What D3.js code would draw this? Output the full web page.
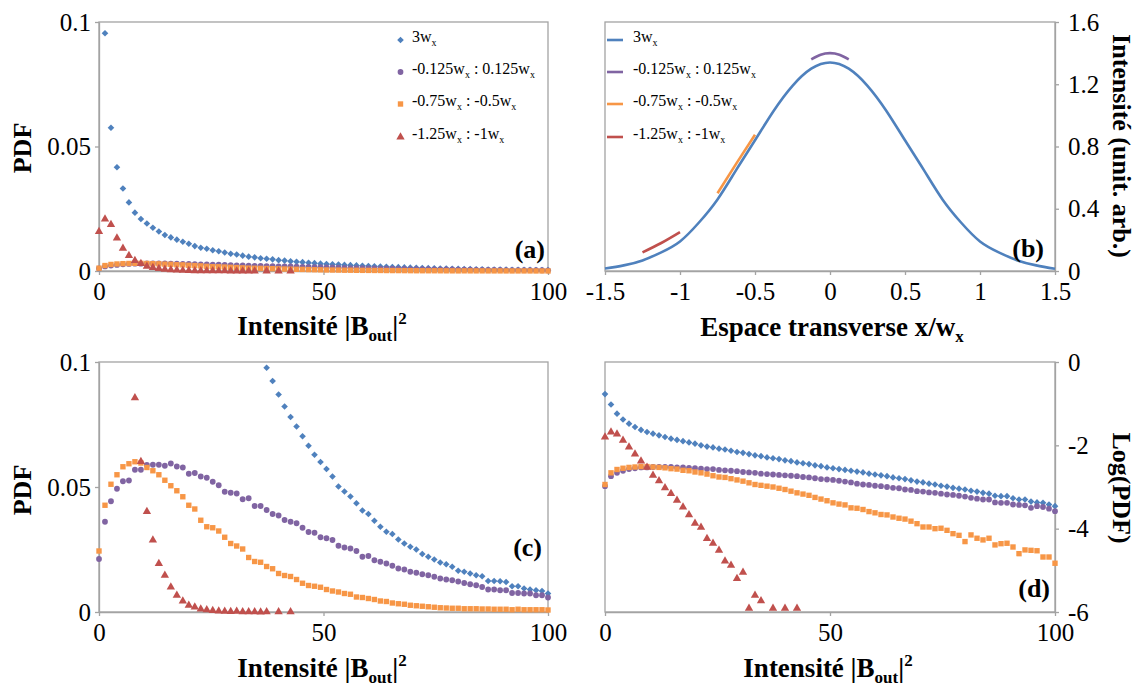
<!DOCTYPE html>
<html>
<head>
<meta charset="utf-8">
<script src="https://cdn.jsdelivr.net/npm/d3@7"></script>
<style>
  body { margin: 0; background: #fff; }
</style>
</head>
<body>
<div id="chart"></div>
<script>
// histogram bin width, in |B_out|^2 units
var binWidth = 4 / 3;

// panel (d) : log10(PDF) per bin (null = empty bin)
var logBlue = [-0.77,-1.02,-1.24,-1.38,-1.48,-1.56,-1.63,-1.68,-1.72,-1.76,-1.80,-1.84,-1.87,-1.90,-1.93,-1.96,-2.00,-2.03,-2.05,-2.08,
  -2.10,-2.13,-2.16,-2.18,-2.21,-2.24,-2.26,-2.29,-2.31,-2.33,-2.36,-2.38,-2.41,-2.43,-2.45,-2.48,-2.50,-2.53,
  -2.55,-2.57,-2.59,-2.61,-2.63,-2.65,-2.68,-2.70,-2.72,-2.74,-2.77,-2.79,-2.81,-2.84,-2.87,-2.89,-2.92,-2.94,-2.97,-2.99,
  -3.02,-3.04,-3.06,-3.09,-3.11,-3.14,-3.16,-3.21,-3.22,-3.22,-3.27,-3.30,-3.30,-3.35,-3.37,-3.38,-3.42,-3.46];
var logPurple = [-2.98,-2.74,-2.66,-2.61,-2.57,-2.55,-2.53,-2.53,-2.52,-2.52,-2.52,-2.52,-2.53,-2.53,-2.54,-2.55,-2.56,-2.57,-2.57,-2.59,
  -2.60,-2.61,-2.62,-2.64,-2.65,-2.66,-2.68,-2.69,-2.70,-2.71,-2.72,-2.73,-2.74,-2.76,-2.77,-2.79,-2.81,-2.82,
  -2.83,-2.85,-2.87,-2.89,-2.92,-2.94,-2.95,-2.97,-2.98,-3.00,-3.02,-3.03,-3.06,-3.07,-3.10,-3.11,-3.13,-3.14,-3.16,-3.18,
  -3.19,-3.21,-3.23,-3.26,-3.28,-3.30,-3.30,-3.37,-3.38,-3.38,-3.42,-3.43,-3.44,-3.50,-3.46,-3.48,-3.52,-3.58];
var logOrange = [-2.94,-2.66,-2.58,-2.55,-2.53,-2.52,-2.51,-2.51,-2.52,-2.53,-2.54,-2.56,-2.57,-2.60,-2.61,-2.64,-2.66,-2.69,-2.73,-2.76,
  -2.77,-2.80,-2.83,-2.86,-2.90,-2.94,-2.96,-2.98,-3.00,-3.03,-3.06,-3.10,-3.14,-3.17,-3.20,-3.25,-3.29,-3.33,
  -3.38,-3.41,-3.43,-3.50,-3.51,-3.54,-3.59,-3.62,-3.66,-3.67,-3.72,-3.75,-3.77,-3.82,-3.88,-3.96,-3.96,-4.00,-3.99,-4.04,
  -4.12,-4.16,-4.31,-4.15,-4.23,-4.27,-4.23,-4.39,-4.36,-4.35,-4.44,-4.60,-4.51,-4.52,-4.53,-4.68,-4.68,-4.83];
var logRed = [-1.80,-1.68,-1.73,-1.88,-2.04,-2.21,-2.38,-2.53,-2.72,-2.85,-3.02,-3.16,-3.32,-3.48,-3.67,-3.87,-3.97,-4.24,-4.35,-4.52,
  -4.78,-4.88,-5.20,-5.05,-5.91,-5.60,-5.73,null,-5.91,null,-5.91,null,-5.91];

// panel (c) : rescaled PDF per bin (null = above 0.1, off the plot)
var pdfBlue = [null,null,null,null,null,null,null,null,null,null,null,null,null,null,null,null,null,null,null,null,
  null,null,null,null,null,null,null,null,0.0977,0.0924,0.0870,0.0822,0.0780,0.0742,0.0703,0.0665,0.0629,0.0600,
  0.0572,0.0542,0.0502,0.0482,0.0462,0.0435,0.0406,0.0392,0.0365,0.0341,0.0321,0.0312,0.0290,0.0274,0.0261,0.0250,0.0232,0.0221,0.0210,0.0198,
  0.0191,0.0181,0.0165,0.0161,0.0154,0.0147,0.0143,0.0124,0.0124,0.0123,0.0120,0.0103,0.0103,0.0094,0.0090,0.0087,0.0084,0.0074];
var pdfPurple = [0.0212,0.0361,0.0443,0.0493,0.0523,0.0526,0.0569,0.0569,0.0588,0.0589,0.0589,0.0585,0.0594,0.0582,0.0578,0.0553,0.0556,0.0542,0.0537,0.0521,
  0.0507,0.0481,0.0477,0.0474,0.0451,0.0455,0.0424,0.0424,0.0408,0.0392,0.0386,0.0368,0.0361,0.0355,0.0337,0.0320,0.0317,0.0299,
  0.0295,0.0288,0.0265,0.0258,0.0254,0.0244,0.0221,0.0224,0.0207,0.0201,0.0194,0.0185,0.0174,0.0170,0.0161,0.0157,0.0151,0.0147,0.0141,0.0134,
  0.0130,0.0127,0.0122,0.0116,0.0111,0.0107,0.0100,0.0090,0.0090,0.0087,0.0087,0.0076,0.0076,0.0074,0.0074,0.0067,0.0067,0.0058];
var pdfOrange = [0.0244,0.0427,0.0511,0.0549,0.0581,0.0593,0.0601,0.0596,0.0578,0.0565,0.0549,0.0527,0.0505,0.0485,0.0461,0.0427,0.0412,0.0367,0.0341,0.0337,
  0.0324,0.0299,0.0274,0.0264,0.0252,0.0218,0.0202,0.0199,0.0182,0.0173,0.0154,0.0146,0.0142,0.0130,0.0115,0.0106,0.0103,0.0099,
  0.0090,0.0084,0.0080,0.0074,0.0071,0.0060,0.0058,0.0054,0.0050,0.0044,0.0042,0.0036,0.0033,0.0031,0.0027,0.0025,0.0023,0.0021,0.0019,0.0017,
  0.0016,0.0015,0.0015,0.0013,0.0013,0.0013,0.0012,0.0012,0.0011,0.0011,0.0011,0.0009,0.0011,0.0009,0.0009,0.0009,0.0009,0.0008];
var pdfRed = [null,null,null,null,null,null,0.0857,0.0602,0.0402,0.0288,0.0194,0.0147,0.0100,0.0067,0.0044,0.0027,0.0020,0.0012,0.0009,0.0006,
  0.0004,0.0003,0.0002,0.0003,0.0001,0.0001,0.0001,0.0000,0.0001,null,0.0001,null,0.0001];

// panel (b) : transverse intensity profiles
var profX = [-1.5,-1.375,-1.25,-1.125,-1,-0.875,-0.75,-0.625,-0.5,-0.375,-0.25,-0.125,0,0.125,0.25,0.375,0.5,0.625,0.75,0.875,1,1.125,1.25,1.375,1.5];
var profBlue = [0.016,0.036,0.068,0.12,0.19,0.31,0.46,0.65,0.84,1.03,1.19,1.30,1.34,1.30,1.19,1.03,0.84,0.65,0.46,0.31,0.19,0.12,0.068,0.036,0.014];
var segPurpleX = [-0.125,-0.0625,0,0.0625,0.125], segPurpleY = [1.36,1.39,1.40,1.39,1.36];
var segOrangeX = [-0.75,-0.625,-0.5], segOrangeY = [0.50,0.69,0.875];
var segRedX = [-1.25,-1.125,-1.0], segRedY = [0.12,0.18,0.25];

var legendLabels = [
  [["3w", "x"]],
  [["-0.125w", "x"], [" : 0.125w", "x"]],
  [["-0.75w", "x"], [" : -0.5w", "x"]],
  [["-1.25w", "x"], [" : -1w", "x"]]
];

var colors = ["#4F81BD", "#8064A2", "#F79646", "#C0504D"];
var shapes = ["diamond", "circle", "square", "triangle"];
var axisGrey = "#a3a3a3";
var serif = "'Liberation Serif'";

var W = 1139, H = 686;
var svg = d3.select("#chart").append("svg").attr("width", W).attr("height", H);

var pA = {left: 99, right: 548, top: 22, bottom: 271};
var pB = {left: 605, right: 1055, top: 22, bottom: 271};
var pC = {left: 99, right: 548, top: 362, bottom: 612};
var pD = {left: 605, right: 1055, top: 362, bottom: 612};

function toPoints(vals, tf) {
  var pts = [];
  vals.forEach(function(v, i) {
    if (v != null) pts.push({x: i * binWidth, y: tf ? tf(v) : v});
  });
  return pts;
}

function symbolPath(shape) {
  if (shape == "diamond") return d3.symbol(d3.symbolSquare, 22)();
  if (shape == "circle") return d3.symbol(d3.symbolCircle, 26)();
  if (shape == "square") return d3.symbol(d3.symbolSquare, 29)();
  return d3.symbol(d3.symbolTriangle, 30)();
}

function marker(g, shape, color, cx, cy) {
  g.append("path")
    .attr("d", symbolPath(shape))
    .attr("transform", "translate(" + cx + "," + cy + ")" + (shape == "diamond" ? " rotate(45)" : ""))
    .attr("fill", color);
}

function frame(p, xDom, yDom, xTicks, yTicks, ySide) {
  var x = d3.scaleLinear().domain(xDom).range([p.left, p.right]);
  var y = d3.scaleLinear().domain(yDom).range([p.bottom, p.top]);
  svg.append("rect")
    .attr("x", p.left).attr("y", p.top)
    .attr("width", p.right - p.left).attr("height", p.bottom - p.top)
    .attr("fill", "none").attr("stroke", axisGrey).attr("stroke-width", 1.3);
  var gx = svg.append("g").attr("transform", "translate(0," + p.bottom + ")")
    .call(d3.axisBottom(x).tickValues(xTicks).tickSize(4).tickSizeOuter(0).tickPadding(7).tickFormat(String));
  var yAxis = ySide == "right" ? d3.axisRight(y) : d3.axisLeft(y);
  var gy = svg.append("g").attr("transform", "translate(" + (ySide == "right" ? p.right : p.left) + ",0)")
    .call(yAxis.tickValues(yTicks).tickSize(4).tickSizeOuter(0).tickPadding(ySide == "right" ? 9 : 4).tickFormat(String));
  [gx, gy].forEach(function(g) {
    g.attr("font-family", null).attr("font-size", null);
    g.select(".domain").attr("stroke", axisGrey).attr("stroke-width", 1.3);
    g.selectAll(".tick line").attr("stroke", axisGrey).attr("stroke-width", 1.3);
    g.selectAll(".tick text").style("font-family", serif).style("font-size", "25px").attr("fill", "#000");
  });
  return {x: x, y: y};
}

function scatter(sc, seriesList, yDom) {
  var g = svg.append("g");
  seriesList.forEach(function(pts, k) {
    pts.filter(function(d) { return d.y >= yDom[0] - 1e-9 && d.y <= yDom[1] + 1e-9; })
      .forEach(function(d) { marker(g, shapes[k], colors[k], sc.x(d.x), sc.y(d.y)); });
  });
}

// text helpers
function intensityTitle(cx, by) {
  var t = svg.append("text").attr("x", cx).attr("y", by).attr("text-anchor", "middle")
    .style("font-family", serif).style("font-size", "27px").style("font-weight", "bold");
  t.append("tspan").text("Intensité |B");
  t.append("tspan").attr("dy", 6).style("font-size", "17px").text("out");
  t.append("tspan").attr("dy", -6).text("|");
  t.append("tspan").attr("dy", -11).style("font-size", "17px").text("2");
}

function vTitle(x, cy, angle, label) {
  svg.append("text").attr("transform", "translate(" + x + "," + cy + ") rotate(" + angle + ")")
    .attr("text-anchor", "middle").style("font-family", serif)
    .style("font-size", "26px").style("font-weight", "bold").text(label);
}

function panelTag(x, y, label) {
  svg.append("text").attr("x", x).attr("y", y).attr("text-anchor", "end")
    .style("font-family", serif).style("font-size", "26px").style("font-weight", "bold").text(label);
}

function legendText(g, x, y, parts) {
  var t = g.append("text").attr("x", x).attr("y", y).style("font-family", serif).style("font-size", "16px");
  parts.forEach(function(pt) {
    t.append("tspan").attr("dy", t.selectAll("tspan").size() ? -4 : 0).style("font-size", "16px").text(pt[0]);
    t.append("tspan").attr("dy", 4).style("font-size", "10px").text(pt[1]);
  });
}

var legendRows = [40, 72, 104, 137];

// ---- panel (a)
var scA = frame(pA, [0, 100], [0, 0.1], [0, 50, 100], [0, 0.05, 0.1], "left");
var pow10 = function(v) { return Math.pow(10, v); };
scatter(scA, [toPoints(logBlue, pow10), toPoints(logPurple, pow10), toPoints(logOrange, pow10), toPoints(logRed, pow10)], [0, 0.1]);
var legA = svg.append("g");
legendLabels.forEach(function(parts, k) {
  marker(legA, shapes[k], colors[k], 400.5, legendRows[k]);
  legendText(legA, 412, legendRows[k] + 5.5, parts);
});
intensityTitle(322, 335);
vTitle(31, 148, -90, "PDF");
panelTag(545, 258, "(a)");

// ---- panel (b)
var scB = frame(pB, [-1.5, 1.5], [0, 1.6], [-1.5, -1, -0.5, 0, 0.5, 1, 1.5], [0, 0.4, 0.8, 1.2, 1.6], "right");
var lineB = d3.line().x(function(d) { return scB.x(d[0]); }).y(function(d) { return scB.y(d[1]); }).curve(d3.curveNatural);
[[profX, profBlue], [segPurpleX, segPurpleY], [segOrangeX, segOrangeY], [segRedX, segRedY]].forEach(function(s, k) {
  svg.append("path").datum(d3.zip(s[0], s[1])).attr("d", lineB)
    .attr("fill", "none").attr("stroke", colors[k]).attr("stroke-width", 2.6);
});
var legB = svg.append("g");
legendLabels.forEach(function(parts, k) {
  legB.append("line").attr("x1", 607).attr("x2", 623).attr("y1", legendRows[k]).attr("y2", legendRows[k])
    .attr("stroke", colors[k]).attr("stroke-width", 2.6);
  legendText(legB, 633, legendRows[k] + 5.5, parts);
});
var tB = svg.append("text").attr("x", 832).attr("y", 336).attr("text-anchor", "middle")
  .style("font-family", serif).style("font-size", "27px").style("font-weight", "bold");
tB.append("tspan").text("Espace transverse x/w");
tB.append("tspan").attr("dy", 6).style("font-size", "17px").text("x");
vTitle(1113, 146, 90, "Intensité (unit. arb.)");
panelTag(1044, 257, "(b)");

// ---- panel (c)
var scC = frame(pC, [0, 100], [0, 0.1], [0, 50, 100], [0, 0.05, 0.1], "left");
scatter(scC, [toPoints(pdfBlue), toPoints(pdfPurple), toPoints(pdfOrange), toPoints(pdfRed)], [0, 0.1]);
intensityTitle(322, 677);
vTitle(31, 490, -90, "PDF");
panelTag(542, 556, "(c)");

// ---- panel (d)
var scD = frame(pD, [0, 100], [-6, 0], [0, 50, 100], [0, -2, -4, -6], "right");
scatter(scD, [toPoints(logBlue), toPoints(logPurple), toPoints(logOrange), toPoints(logRed)], [-6, 0]);
intensityTitle(828, 677);
vTitle(1113, 488, 90, "Log(PDF)");
panelTag(1050, 597, "(d)");
</script>
</body>
</html>
